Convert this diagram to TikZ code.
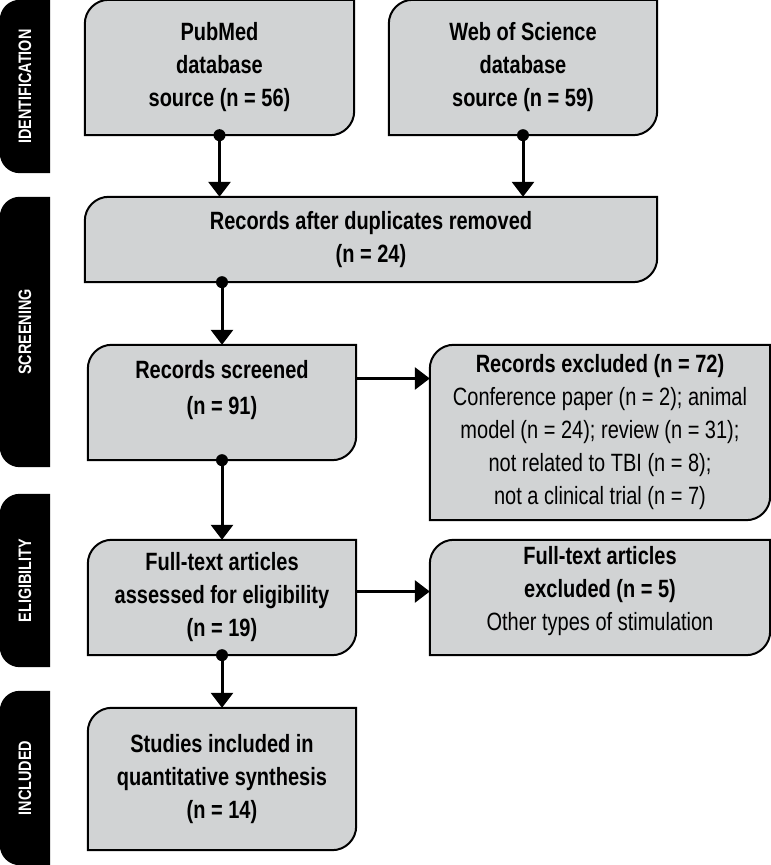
\documentclass[tikz,border=0pt]{standalone}
\usepackage{fontspec}
\setmainfont{Liberation Sans}[FakeStretch=0.8]
\usetikzlibrary{arrows.meta,positioning}
\definecolor{boxgray}{RGB}{209,211,212}

% box with two rounded corners
\newcommand{\flowbox}[1]{%
  \draw[boxline] ([xshift=24pt]#1.north west) -- (#1.north east) -- ([yshift=24pt]#1.south east)
    arc[start angle=0,end angle=-90,radius=24pt] -- (#1.south west)
    -- ([yshift=-24pt]#1.north west) arc[start angle=180,end angle=90,radius=24pt] -- cycle;}
% stage tab
\newcommand{\stagetab}[1]{%
  \fill ([xshift=20pt]#1.north west) -- (#1.north east) -- (#1.south east)
    -- ([xshift=20pt]#1.south west) arc[start angle=270,end angle=180,radius=20pt]
    -- ([yshift=-20pt]#1.north west) arc[start angle=180,end angle=90,radius=20pt] -- cycle;}

\begin{document}
\begin{tikzpicture}[x=1pt, y=1pt]
\tikzset{
  box/.style={inner sep=0pt, align=center, font=\fontsize{25}{33}\selectfont},
  boxline/.style={draw=black, fill=boxgray, line width=2pt},
  tab/.style={inner sep=0pt},
  tablabel/.style={rotate=90, text=white, font=\bfseries\fontsize{18}{20}\selectfont},
  flow/.style={line width=3pt, -{Triangle[width=22pt,length=15pt]}},
  dot/.style={circle, fill=black, inner sep=0pt, minimum size=12pt}
}
\useasboundingbox (0,0) rectangle (771,865);

% stage tabs
\node[tab, minimum width=50pt, minimum height=173pt] (tident) at (25,778.5) {};
\node[tab, minimum width=50pt, minimum height=270pt] (tscreen) at (25,533) {};
\node[tab, minimum width=50pt, minimum height=173pt] (telig) at (25,284.5) {};
\node[tab, minimum width=50pt, minimum height=174pt] (tincl) at (25,87) {};
\stagetab{tident}
\stagetab{tscreen}
\stagetab{telig}
\stagetab{tincl}
\node[tablabel] at (tident) {IDENTIFICATION};
\node[tablabel] at (tscreen) {SCREENING};
\node[tablabel] at (telig) {ELIGIBILITY};
\node[tablabel] at (tincl) {INCLUDED};

% boxes
\node[box, minimum width=269pt, minimum height=135pt] (pubmed) at (219.5,797.5) {};
\node[box, minimum width=268pt, minimum height=135pt] (wos) at (523,797.5) {};
\node[box, minimum width=572pt, minimum height=85pt] (dupl) at (371,625.5) {};
\node[box, minimum width=268pt, minimum height=115pt] (screened) at (222,462.5) {};
\node[box, minimum width=340pt, minimum height=175pt] (excl) at (600,432.5) {};
\node[box, minimum width=268pt, minimum height=115pt] (fulltext) at (222,267.5) {};
\node[box, minimum width=340pt, minimum height=115pt] (ftexcl) at (600,267.5) {};
\node[box, minimum width=268pt, minimum height=142pt] (included) at (222,86) {};
\flowbox{pubmed}
\flowbox{wos}
\flowbox{dupl}
\flowbox{screened}
\flowbox{excl}
\flowbox{fulltext}
\flowbox{ftexcl}
\flowbox{included}

\node[box, font=\bfseries\fontsize{25}{33}\selectfont] at (pubmed) {PubMed\\database\\source (n = 56)};
\node[box, font=\bfseries\fontsize{25}{33}\selectfont] at (wos) {Web of Science\\database\\source (n = 59)};
\node[box, font=\bfseries\fontsize{25}{33}\selectfont] at (dupl) {Records after duplicates removed\\(n = 24)};
\node[box, font=\bfseries\fontsize{25}{36}\selectfont] at ([yshift=12pt]screened) {Records screened\\(n = 91)};
\node[box, font=\fontsize{25}{33}\selectfont] at (excl) {\textbf{Records excluded (n = 72)}\\Conference paper (n = 2); animal\\model (n = 24); review (n = 31);\\not related to TBI (n = 8);\\not a clinical trial (n = 7)};
\node[box, font=\bfseries\fontsize{25}{33}\selectfont] at (fulltext) {Full-text articles\\assessed for eligibility\\(n = 19)};
\node[box, font=\fontsize{25}{33}\selectfont] at ([yshift=6pt]ftexcl) {\textbf{Full-text articles}\\\textbf{excluded (n = 5)}\\Other types of stimulation};
\node[box, font=\bfseries\fontsize{25}{33}\selectfont] at (included) {Studies included in\\quantitative synthesis\\(n = 14)};

% connectors
\draw[flow] (pubmed.south) -- (pubmed.south |- dupl.north);
\draw[flow] (wos.south) -- (wos.south |- dupl.north);
\draw[flow] (dupl.south -| screened.north) -- (screened.north);
\draw[flow] (screened.south) -- (fulltext.north);
\draw[flow] (fulltext.south) -- (included.north);
\draw[flow] ([yshift=24pt]screened.east) -- ([yshift=24pt]screened.east -| excl.west);
\draw[flow] ([yshift=6pt]fulltext.east) -- ([yshift=6pt]fulltext.east -| ftexcl.west);
\node[dot] (d1) at (pubmed.south) {};
\node[dot] (d2) at (wos.south) {};
\node[dot] (d3) at (dupl.south -| screened.north) {};
\node[dot] (d4) at (screened.south) {};
\node[dot] (d5) at (fulltext.south) {};
\end{tikzpicture}
\end{document}
